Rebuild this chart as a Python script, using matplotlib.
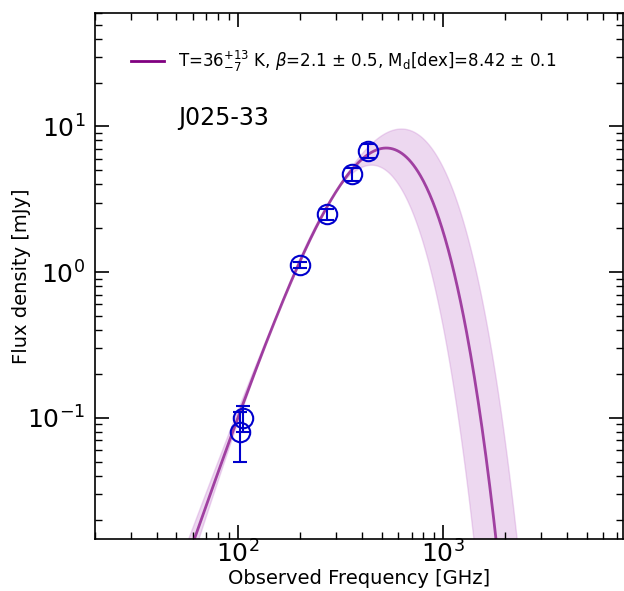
import numpy as np
import matplotlib
matplotlib.use("Agg")
import matplotlib.pyplot as plt

# observed photometry (GHz, mJy)
freq = [102, 106, 200, 272, 360, 430]
flux = [0.080, 0.10, 1.12, 2.49, 4.69, 6.82]
flux_err = [0.030, 0.020, 0.06, 0.23, 0.47, 0.80]

# modified black body fit (from the legend)
z = 6.31
T_dust = 36.0
beta = 2.1
T_lo, beta_lo = 27.5, 2.45
T_hi, beta_hi = 46.0, 1.8
peak_flux = 7.1        # mJy, peak of best-fit curve
norm_freq = 300.0      # GHz, where the band curves are pinned

label = (r"T=36$^{+13}_{-7}$ K, $\beta$=2.1 $\pm$ 0.5, "
         r"M$_{\rm d}$[dex]=8.42 $\pm$ 0.1")


def planck(nu_ghz, T):
    x = 0.0479924 * nu_ghz / T
    return nu_ghz ** 3 / np.expm1(x)


def mbb(nu_obs, T, b):
    nu_rest = nu_obs * (1 + z)
    t_cmb = 2.725 * (1 + z)
    return nu_rest ** b * (planck(nu_rest, T) - planck(nu_rest, t_cmb))


nu = np.logspace(1, 4, 800)
best = mbb(nu, T_dust, beta)
best = best / best.max() * peak_flux
ref = np.interp(norm_freq, nu, best)

lo = mbb(nu, T_lo, beta_lo)
lo = lo / np.interp(norm_freq, nu, lo) * ref
hi = mbb(nu, T_hi, beta_hi)
hi = hi / np.interp(norm_freq, nu, hi) * ref
band_lo = np.minimum(np.minimum(lo, hi), best)
band_hi = np.maximum(np.maximum(lo, hi), best)

fig = plt.figure(figsize=(6.24, 5.91), dpi=100)
ax = fig.add_axes([0.152, 0.088, 0.846, 0.89])

ax.fill_between(nu, band_lo, band_hi, color="#c67fd0", alpha=0.3, lw=1)
ax.plot(nu, best, "-", color="purple", lw=2, alpha=0.7, label=label)
ax.errorbar(freq, flux, yerr=flux_err, fmt="o", ms=14, mfc="none",
            mec="mediumblue", mew=1.5, ecolor="mediumblue", elinewidth=1.5,
            capsize=5, capthick=1.5)

ax.set_xscale("log")
ax.set_yscale("log")
ax.set_xlim(20, 7500)
ax.set_ylim(0.0147, 60)

ax.tick_params(which="both", direction="in", top=True, right=True)
ax.tick_params(which="major", length=10, width=1.2, labelsize=18)
ax.tick_params(which="minor", length=5, width=1)
ax.tick_params(axis="x", which="major", pad=1)
ax.tick_params(axis="y", which="major", pad=7)
for s in ax.spines.values():
    s.set_linewidth(1.2)

ax.set_xlabel("Observed Frequency [GHz]", fontsize=14, labelpad=1)
ax.set_ylabel("Flux density [mJy]", fontsize=14, labelpad=-3)
ax.text(0.157, 0.80, "J025-33", transform=ax.transAxes, fontsize=17,
        va="center", ha="left")

leg = ax.legend(loc="upper left", bbox_to_anchor=(0.04, 0.96), frameon=False,
                fontsize=12)
for h in leg.get_lines():
    h.set_alpha(1)

fig.savefig("out.png", dpi=100)
